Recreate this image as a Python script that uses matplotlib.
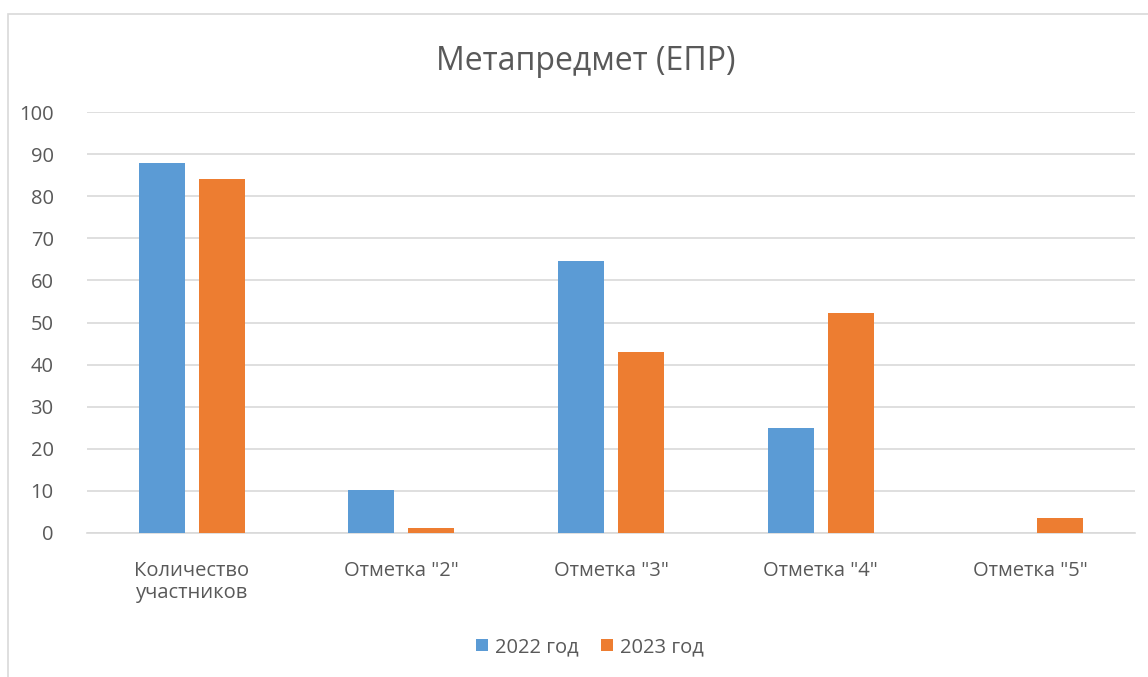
import matplotlib
matplotlib.use("Agg")
from matplotlib import pyplot as plt
from matplotlib.patches import Rectangle
import numpy as np

# data
categories = ['Количество\nучастников', 'Отметка "2"', 'Отметка "3"', 'Отметка "4"', 'Отметка "5"']
series_names = ['2022 год', '2023 год']
values_2022 = [88, 10.2, 64.7, 25, 0]
values_2023 = [84, 1.2, 42.9, 52.3, 3.5]
y_ticks = [0, 10, 20, 30, 40, 50, 60, 70, 80, 90, 100]

blue = '#5b9bd5'
orange = '#ed7d31'
grey_text = '#595959'

plt.rcParams['font.family'] = ['Open Sans', 'DejaVu Sans']

fig = plt.figure(figsize=(11.48, 6.77), dpi=100)
ax = fig.add_axes([87 / 1148, 1 - 533 / 677, (1135 - 87) / 1148, (533 - 112) / 677])

# frame around the chart (cut at right and bottom like the screenshot)
fig.patches.append(Rectangle((8 / 1148, -0.05), 1.2, 1 - 14 / 677 + 0.05,
                             transform=fig.transFigure, fill=False,
                             edgecolor='#d9d9d9', linewidth=1.2))

x = np.arange(len(categories))
w = 0.22
ax.bar(x - 0.143, values_2022, w, color=blue, label=series_names[0], zorder=3)
ax.bar(x + 0.143, values_2023, w, color=orange, label=series_names[1], zorder=3)

ax.set_xlim(-0.5, len(categories) - 0.5)
ax.set_ylim(0, 100)
ax.set_yticks(y_ticks)
ax.set_xticks(x)
ax.set_xticklabels(categories, linespacing=1.15)
ax.grid(axis='y', color='#d9d9d9', linewidth=1.2, zorder=0)
for s in ['top', 'right', 'left']:
    ax.spines[s].set_visible(False)
ax.spines['bottom'].set_color('#d9d9d9')
ax.spines['bottom'].set_linewidth(1.2)
ax.tick_params(axis='both', length=0, labelsize=14.5, colors=grey_text)
ax.tick_params(axis='y', pad=24)
ax.tick_params(axis='x', pad=20)

fig.text(0.51, 1 - 62 / 677, 'Метапредмет (ЕПР)', ha='center', va='center',
         fontsize=23, color=grey_text)

fig.legend(loc='center', bbox_to_anchor=(0.514, 1 - 647 / 677), ncol=2,
           frameon=False, fontsize=14.5, handlelength=0.6, handleheight=0.6,
           columnspacing=1.1, handletextpad=0.35, labelcolor=grey_text)

plt.savefig('out.png', dpi=100)
plt.close()
